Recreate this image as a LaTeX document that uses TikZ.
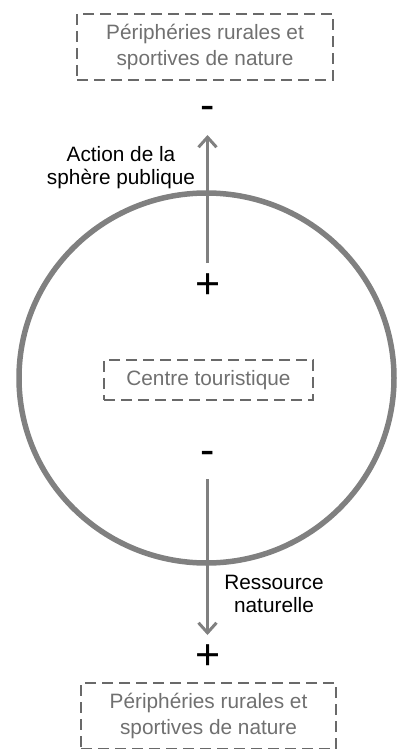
\documentclass[tikz,border=0pt]{standalone}
\usepackage{fontspec}
\setmainfont{Liberation Sans}
\usetikzlibrary{arrows.meta}
\definecolor{boxline}{RGB}{105,105,105}
\definecolor{boxtext}{RGB}{112,112,112}
\definecolor{flow}{RGB}{128,128,128}
\tikzset{
  dbox/.style={draw=boxline, line width=1.8pt, dash pattern=on 11pt off 6pt,
    text=boxtext, align=center, font=\fontsize{20.8}{26}\selectfont, inner sep=0pt},
  lbl/.style={text=black, align=center, font=\fontsize{20.8}{23}\selectfont, inner sep=0pt},
  sign/.style={text=black, font=\fontsize{43}{43}\selectfont, inner sep=0pt},
  flowarrow/.style={draw=flow, line width=3pt, -{Straight Barb[length=10pt,width=18pt,line width=3pt]}},
}
\begin{document}
\begin{tikzpicture}[x=1pt,y=-1pt]
\useasboundingbox (0,0) rectangle (398,749);
% circle
\draw[flow, line width=5.5pt] (206.5,378) ellipse [x radius=187.5, y radius=185];
% boxes
\node[dbox, minimum width=256pt, minimum height=66pt] (top) at (205,47) {Périphéries rurales et\\sportives de nature};
\node[dbox, minimum width=209pt, minimum height=40pt] (centre) at (208.5,380) {Centre touristique};
\node[dbox, minimum width=255pt, minimum height=66pt] (bottom) at (208.5,716) {Périphéries rurales et\\sportives de nature};
% signs
\node[sign] (mTop) at (207.5,113) {-};
\node[sign] (pTop) at (208,286) {+};
\node[sign] (mBot) at (207.5,458) {-};
\node[sign] (pBot) at (208,657) {+};
% arrow ends
\coordinate (a1s) at (207.5,263);
\coordinate (a1e) at (207.5,135);
\coordinate (a2s) at (207.5,479);
\coordinate (a2e) at (207.5,635);
\draw[flowarrow] (a1s) -- (a1e);
\draw[flowarrow] (a2s) -- (a2e);
% labels
\node[lbl] (l1) at (121,168) {Action de la\\sphère publique};
\node[lbl] (l2) at (274,594) {Ressource\\naturelle};
\end{tikzpicture}
\end{document}
